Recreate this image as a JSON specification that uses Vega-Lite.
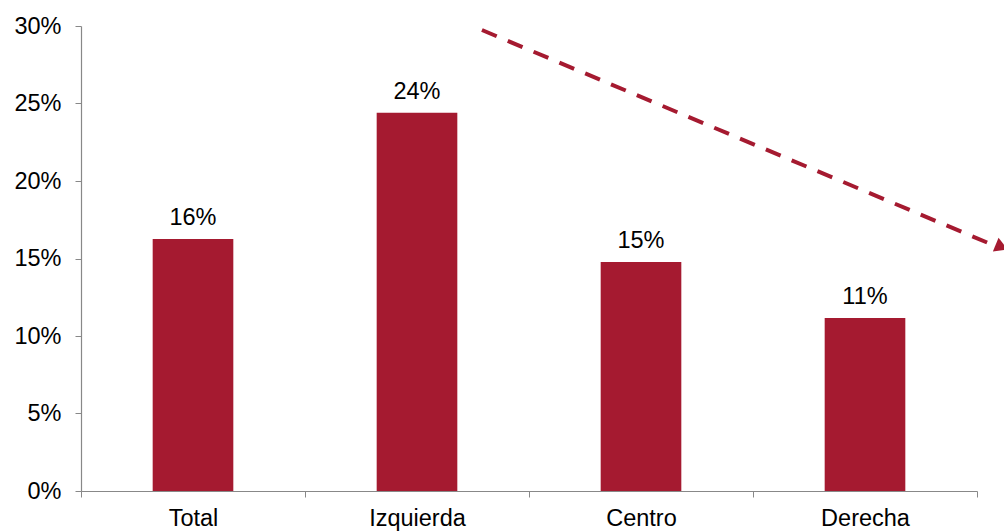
{
  "$schema": "https://vega.github.io/schema/vega-lite/v6.json",
  "autosize": {"type": "none"},
  "width": 896,
  "height": 465,
  "padding": {"left": 81, "top": 26, "right": 27, "bottom": 40},
  "background": "white",
  "config": {
    "view": {"stroke": null},
    "font": "Liberation Sans"
  },
  "datasets": {
    "bars": [
      {"grupo": "Total", "valor": 0.1626, "etiqueta": "16%"},
      {"grupo": "Izquierda", "valor": 0.244, "etiqueta": "24%"},
      {"grupo": "Centro", "valor": 0.1477, "etiqueta": "15%"},
      {"grupo": "Derecha", "valor": 0.1116, "etiqueta": "11%"}
    ],
    "flecha": [
      {"x": 1.79, "y": 0.2974},
      {"x": 4.06, "y": 0.1594}
    ],
    "punta": [
      {"x": 4.11, "y": 0.1574}
    ]
  },
  "layer": [
    {
      "data": {"name": "bars"},
      "encoding": {
        "x": {
          "field": "grupo",
          "type": "nominal",
          "sort": null,
          "scale": {"paddingInner": 0, "paddingOuter": 0},
          "axis": {
            "title": null,
            "labelAngle": 0,
            "labelFontSize": 23.5,
            "labelColor": "#000000",
            "labelPadding": 9,
            "tickBand": "extent",
            "tickSize": 6,
            "tickColor": "#888888",
            "domainColor": "#888888",
            "domainWidth": 1.2,
            "labelBaseline": "top"
          }
        },
        "y": {
          "field": "valor",
          "type": "quantitative",
          "scale": {"domain": [0, 0.3], "nice": false},
          "axis": {
            "title": null,
            "format": ".0%",
            "values": [0, 0.05, 0.1, 0.15, 0.2, 0.25, 0.3],
            "grid": false,
            "labelFontSize": 23.5,
            "labelColor": "#000000",
            "labelPadding": 14,
            "tickSize": 6,
            "tickColor": "#888888",
            "domainColor": "#888888",
            "domainWidth": 1.2
          }
        }
      },
      "layer": [
        {
          "mark": {"type": "bar", "color": "#A51A30", "width": {"band": 0.36}}
        },
        {
          "mark": {"type": "text", "baseline": "bottom", "dy": -9, "fontSize": 23.5, "color": "#000000"},
          "encoding": {"text": {"field": "etiqueta"}}
        }
      ]
    },
    {
      "data": {"name": "flecha"},
      "mark": {"type": "line", "color": "#A51A30", "strokeWidth": 4, "strokeDash": [16, 12]},
      "encoding": {
        "x": {"field": "x", "type": "quantitative", "scale": {"domain": [0, 4], "nice": false, "zero": false}, "axis": null},
        "y": {"field": "y", "type": "quantitative"}
      }
    },
    {
      "data": {"name": "punta"},
      "mark": {"type": "point", "shape": "triangle-right", "filled": true, "color": "#A51A30", "opacity": 1, "size": 220, "angle": 22.5},
      "encoding": {
        "x": {"field": "x", "type": "quantitative", "scale": {"domain": [0, 4], "nice": false, "zero": false}, "axis": null},
        "y": {"field": "y", "type": "quantitative"}
      }
    }
  ],
  "resolve": {"scale": {"x": "independent"}}
}
